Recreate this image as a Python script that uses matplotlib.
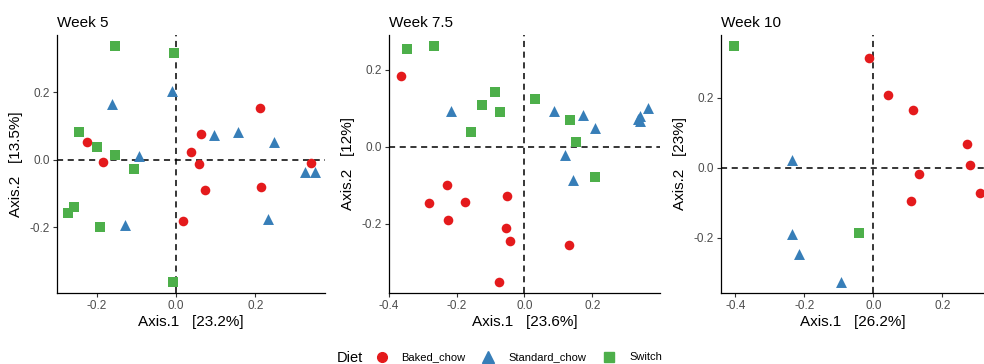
import numpy as np
import matplotlib.pyplot as plt
from matplotlib.lines import Line2D

plt.rcParams['font.family'] = ['Liberation Sans', 'DejaVu Sans']

diets = ['Baked_chow', 'Standard_chow', 'Switch']
colors = {'Baked_chow': '#E41A1C', 'Standard_chow': '#377EB8', 'Switch': '#4DAF4A'}
shapes = {'Baked_chow': 'o', 'Standard_chow': '^', 'Switch': 's'}
sizes = {'Baked_chow': 48, 'Standard_chow': 62, 'Switch': 46}

# week 5
w5_baked_x = [-0.225, -0.183, 0.064, 0.039, 0.057, 0.074, 0.017, 0.212, 0.214, 0.340]
w5_baked_y = [0.052, -0.007, 0.076, 0.023, -0.011, -0.088, -0.180, 0.153, -0.079, -0.010]
w5_std_x = [-0.160, -0.010, -0.094, -0.128, 0.096, 0.156, 0.247, 0.326, 0.350, 0.232]
w5_std_y = [0.165, 0.204, 0.011, -0.194, 0.073, 0.083, 0.054, -0.036, -0.036, -0.176]
w5_sw_x = [-0.153, -0.005, -0.245, -0.198, -0.153, -0.106, -0.271, -0.257, -0.192, -0.008]
w5_sw_y = [0.336, 0.318, 0.082, 0.037, 0.014, -0.028, -0.158, -0.140, -0.198, -0.360]

# week 7.5
w7_baked_x = [-0.364, -0.228, -0.281, -0.177, -0.227, -0.052, -0.054, -0.042, 0.130, -0.075]
w7_baked_y = [0.183, -0.100, -0.145, -0.144, -0.190, -0.129, -0.210, -0.246, -0.255, -0.352]
w7_std_x = [-0.217, 0.087, 0.172, 0.209, 0.340, 0.340, 0.364, 0.336, 0.119, 0.144]
w7_std_y = [0.093, 0.093, 0.084, 0.048, 0.080, 0.067, 0.100, 0.072, -0.022, -0.085]
w7_sw_x = [-0.348, -0.266, -0.088, -0.126, -0.072, -0.158, 0.032, 0.134, 0.152, 0.207]
w7_sw_y = [0.255, 0.261, 0.143, 0.109, 0.090, 0.038, 0.125, 0.070, 0.012, -0.078]

# week 10
w10_baked_x = [-0.014, 0.043, 0.116, 0.273, 0.281, 0.132, 0.110, 0.308]
w10_baked_y = [0.314, 0.207, 0.165, 0.069, 0.007, -0.019, -0.094, -0.072]
w10_std_x = [-0.236, -0.236, -0.217, -0.095]
w10_std_y = [0.023, -0.190, -0.247, -0.326]
w10_sw_x = [-0.405, -0.043]
w10_sw_y = [0.347, -0.187]

panels = [
    ('Week 5', '23.2%', '13.5%',
     [(w5_baked_x, w5_baked_y), (w5_std_x, w5_std_y), (w5_sw_x, w5_sw_y)],
     (-0.300, 0.376), (-0.394, 0.370), [-0.2, 0.0, 0.2]),
    ('Week 7.5', '23.6%', '12%',
     [(w7_baked_x, w7_baked_y), (w7_std_x, w7_std_y), (w7_sw_x, w7_sw_y)],
     (-0.400, 0.400), (-0.380, 0.291), [-0.4, -0.2, 0.0, 0.2]),
    ('Week 10', '26.2%', '23%',
     [(w10_baked_x, w10_baked_y), (w10_std_x, w10_std_y), (w10_sw_x, w10_sw_y)],
     (-0.442, 0.321), (-0.358, 0.380), [-0.4, -0.2, 0.0, 0.2]),
]

rects = [[0.0579, 0.195, 0.2724, 0.709],
         [0.3953, 0.195, 0.2754, 0.709],
         [0.7327, 0.195, 0.2673, 0.709]]

fig = plt.figure(figsize=(9.84, 3.64), dpi=100)

for rect, (title, px, py, groups, xl, yl, xt) in zip(rects, panels):
    ax = fig.add_axes(rect)
    ax.axhline(0, color='black', ls=(0, (4, 3)), lw=1.1, zorder=1)
    ax.axvline(0, color='black', ls=(0, (4, 3)), lw=1.1, zorder=1)
    for d, (gx, gy) in zip(diets, groups):
        ax.scatter(gx, gy, marker=shapes[d], s=sizes[d], color=colors[d],
                   linewidths=0, zorder=3)
    ax.set_xlim(*xl)
    ax.set_ylim(*yl)
    ax.set_xticks(xt)
    ax.set_yticks([-0.2, 0.0, 0.2])
    ax.xaxis.set_major_formatter(plt.FormatStrFormatter('%.1f'))
    ax.yaxis.set_major_formatter(plt.FormatStrFormatter('%.1f'))
    for s in ['top', 'right']:
        ax.spines[s].set_visible(False)
    for s in ['left', 'bottom']:
        ax.spines[s].set_linewidth(0.9)
    ax.tick_params(labelsize=8.5, labelcolor='#4D4D4D', color='#333333',
                   length=3, width=0.8, pad=2)
    ax.set_xlabel('Axis.1   [%s]' % px, fontsize=11, labelpad=2)
    ax.set_ylabel('Axis.2   [%s]' % py, fontsize=11, labelpad=5)
    ax.set_title(title, fontsize=11, loc='left', pad=6)

fig.text(0.342, 0.016, 'Diet', fontsize=10.5, va='center', ha='left')
handles = [Line2D([], [], ls='none', marker=shapes[d], color=colors[d],
                  markersize=8 if d == 'Standard_chow' else 7) for d in diets]
fig.legend(handles, diets, loc='center left', bbox_to_anchor=(0.381, 0.018),
           ncol=3, frameon=False, fontsize=8, handletextpad=1.2,
           columnspacing=1.45, handlelength=1.2, borderpad=0, borderaxespad=0)

fig.savefig('out.png', dpi=100)
